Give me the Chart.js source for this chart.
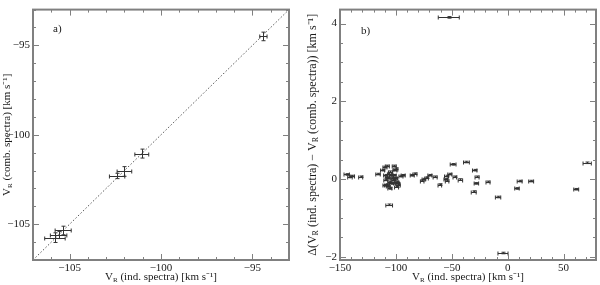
<!DOCTYPE html>
<html>
<head>
<meta charset="utf-8">
<script src="https://cdn.jsdelivr.net/npm/chart.js@4.4.1/dist/chart.umd.min.js"></script>
<style>
  html, body { margin: 0; padding: 0; background: #fff; }
  #wrap { position: relative; width: 600px; height: 285px; }
  canvas { position: absolute; top: 0; }
  #left-chart { left: 0; }
  #right-chart { left: 300px; }
</style>
</head>
<body>
<div id="wrap">
  <canvas id="left-chart" width="300" height="285"></canvas>
  <canvas id="right-chart" width="300" height="285"></canvas>
</div>
<script>
// panel a) - combined vs individual spectra
const aInd = [-94.4, -101.05, -102.0, -102.4, -105.35, -105.6, -105.8];
const aComb = [-94.5, -101.05, -102.05, -102.3, -105.35, -105.6, -105.75];
const aIndErr = [0.2, 0.38, 0.4, 0.42, 0.44, 0.45, 0.56];
const aCombErr = [0.24, 0.25, 0.27, 0.15, 0.24, 0.2, 0.27];
const aLine = [-107, -93];

// panel b) - difference vs individual spectra
const bInd = [
    -52.7, -4.2, 71.1, 61.3, 21.0, 10.7, 8.3, -8.6, -17.6, -27.4,
    -28.0, -29.5, -30.4, -36.9, -42.3, -48.8, -47.3, -51.8, -54.7, -55.4,
    -54.2, -60.7, -64.9, -69.6, -72.6, -75.0, -76.5, -83.0, -85.4, -93.5,
    -95.5, -97.9, -116.0, -106.0, -131.5, -139.0, -141.1, -144.0,
    -111.9, -109.8, -107.7, -109.2, -106.8, -105.4, -103.9, -101.5, -100.9, -101.5,
    -100.3, -99.4, -102.4, -105.8, -109.8, -108.3, -106.8, -99.4, -98.5, -101.8,
    -100.0, -104.9, -107.7, -109.0, -105.4, -103.9
];
const bDiff = [
    4.16, -1.90, 0.42, -0.26, -0.05, -0.05, -0.24, -0.46, -0.07, 0.06,
    -0.11, 0.23, -0.32, 0.44, -0.01, 0.38, 0.06, 0.13, 0.08, 0.0,
    -0.04, -0.14, 0.06, 0.10, 0.04, 0.0, -0.04, 0.14, 0.10, 0.10,
    0.08, -0.14, 0.13, -0.66, 0.06, 0.08, 0.06, 0.12,
    0.23, 0.31, 0.34, 0.10, 0.03, -0.07, -0.11, 0.34, 0.23, 0.10,
    0.02, -0.07, 0.02, 0.14, -0.16, -0.14, -0.18, -0.19, -0.11, -0.02,
    0.27, 0.19, 0.06, -0.02, -0.24, 0.10
];
const bIndErr = [
    9.4, 4.5, 3.7, 2.2, 2.2, 2.2, 2.0, 2.4, 1.8, 1.8,
    2.0, 2.0, 2.2, 2.6, 2.0, 2.6, 1.6, 1.8, 1.8, 1.6,
    1.6, 1.6, 1.8, 1.8, 1.6, 1.6, 1.6, 1.8, 1.8, 1.8,
    1.8, 1.8, 2.0, 3.0, 1.8, 2.0, 2.0, 2.4,
    1.8, 1.8, 1.8, 1.8, 1.8, 1.8, 1.8, 1.8, 1.8, 1.8,
    1.8, 1.8, 1.8, 1.8, 1.8, 1.8, 1.8, 1.8, 1.8, 1.8,
    1.8, 1.8, 1.8, 1.8, 1.8, 1.8
];
const bDiffErr = bDiff.map(() => 0.02);

const font = "'Liberation Serif', 'Times New Roman', serif";
const ink = "#1a1a1a";
const frameGrey = "#808080";

const minus = v => String(v).replace("-", "\u2212");

// error bars drawn from the dataset arrays through the scales
const errorBars = {
    id: "errorBars",
    afterDatasetsDraw(chart) {
        const { ctx, scales: { x, y } } = chart;
        chart.data.datasets.forEach(ds => {
            if (!ds.errX) return;
            ctx.save();
            ctx.strokeStyle = ds.errColor;
            ctx.lineWidth = 1;
            ctx.beginPath();
            ds.data.forEach((p, i) => {
                const px = Math.round(x.getPixelForValue(p.x)) + 0.5;
                const py = Math.round(y.getPixelForValue(p.y)) + 0.5;
                const x0 = x.getPixelForValue(p.x - ds.errX[i]);
                const x1 = x.getPixelForValue(p.x + ds.errX[i]);
                const y0 = y.getPixelForValue(p.y - ds.errY[i]);
                const y1 = y.getPixelForValue(p.y + ds.errY[i]);
                const c = ds.cap;
                ctx.moveTo(x0, py); ctx.lineTo(x1, py);
                ctx.moveTo(x0, py - c); ctx.lineTo(x0, py + c);
                ctx.moveTo(x1, py - c); ctx.lineTo(x1, py + c);
                if (Math.abs(y1 - y0) > 1.5) {
                    ctx.moveTo(px, y0); ctx.lineTo(px, y1);
                    ctx.moveTo(px - c, y0); ctx.lineTo(px + c, y0);
                    ctx.moveTo(px - c, y1); ctx.lineTo(px + c, y1);
                }
            });
            ctx.stroke();
            ctx.restore();
        });
    }
};

// box frame with inward ticks on all four sides, titles with subscripts
const frame = {
    id: "frame",
    afterDraw(chart, args, opts) {
        const { ctx, chartArea: a, scales: { x, y } } = chart;
        ctx.save();
        ctx.strokeStyle = frameGrey;
        ctx.lineWidth = 1;
        ctx.beginPath();
        const steps = (scale, step) => {
            const out = [];
            for (let v = Math.ceil(scale.min / step - 1e-9) * step; v <= scale.max + 1e-9; v += step) out.push(v);
            return out;
        };
        steps(x, opts.xMinor).forEach(v => {
            const px = Math.round(x.getPixelForValue(v)) + 0.5;
            const major = Math.abs(v / opts.xMajor - Math.round(v / opts.xMajor)) < 1e-6;
            const len = major ? 6 : 3;
            ctx.moveTo(px, a.bottom); ctx.lineTo(px, a.bottom - len);
            ctx.moveTo(px, a.top); ctx.lineTo(px, a.top + len);
        });
        steps(y, opts.yMinor).forEach(v => {
            const py = Math.round(y.getPixelForValue(v)) + 0.5;
            const major = Math.abs(v / opts.yMajor - Math.round(v / opts.yMajor)) < 1e-6;
            const len = major ? 6 : 3;
            ctx.moveTo(a.left, py); ctx.lineTo(a.left + len, py);
            ctx.moveTo(a.right, py); ctx.lineTo(a.right - len, py);
        });
        ctx.stroke();
        ctx.lineWidth = 2;
        ctx.strokeRect(a.left, a.top, a.right - a.left, a.bottom - a.top);

        // titles
        ctx.fillStyle = ink;
        const drawParts = (parts, cx, cy, rot, size) => {
            ctx.save();
            ctx.translate(cx, cy);
            ctx.rotate(rot);
            const sub = Math.round(size * 0.64);
            let w = 0;
            parts.forEach(p => {
                ctx.font = (p.sub ? sub : size) + "px " + font;
                w += ctx.measureText(p.t).width;
            });
            let cur = -w / 2;
            ctx.textBaseline = "middle";
            ctx.textAlign = "left";
            parts.forEach(p => {
                ctx.font = (p.sub ? sub : size) + "px " + font;
                ctx.fillText(p.t, cur, p.sub ? 3 : 0);
                cur += ctx.measureText(p.t).width;
            });
            ctx.restore();
        };
        drawParts(opts.xTitle, (a.left + a.right) / 2, 277, 0, 11);
        drawParts(opts.yTitle, opts.yTitleX, (a.top + a.bottom) / 2, -Math.PI / 2, opts.yTitleSize);
        ctx.font = "11px " + font;
        ctx.textAlign = "left";
        ctx.textBaseline = "middle";
        ctx.fillText(opts.tag, a.left + opts.tagDx, a.top + opts.tagDy);
        ctx.restore();
    }
};

const xTitleParts = [{ t: "V" }, { t: "R", sub: true }, { t: " (ind. spectra) [km s\u207B\u00B9]" }];

function axis(min, max, step, pos, fit) {
    return {
        type: "linear",
        position: pos,
        min: min,
        max: max,
        grid: { display: false, drawTicks: false },
        border: { display: false },
        ticks: {
            stepSize: step,
            includeBounds: false,
            padding: pos === "bottom" ? 2 : 3,
            color: ink,
            font: { family: font, size: 11 },
            callback: v => minus(v)
        },
        afterFit: fit
    };
}

new Chart(document.getElementById("left-chart"), {
    type: "scatter",
    data: {
        datasets: [{
            type: "line",
            data: aLine.map(v => ({ x: v, y: v })),
            borderColor: "#555",
            borderWidth: 1,
            borderDash: [1.5, 2],
            pointRadius: 0,
            fill: false
        }, {
            data: aInd.map((v, i) => ({ x: v, y: aComb[i] })),
            errX: aIndErr,
            errY: aCombErr,
            errColor: "#333",
            cap: 2,
            pointRadius: 0
        }]
    },
    options: {
        responsive: false,
        animation: false,
        layout: { padding: { top: 4, right: 11, left: 0, bottom: 0 } },
        scales: {
            x: axis(-107, -93, 5, "bottom", s => { s.height = 25; }),
            y: axis(-107, -93, 5, "left", s => { s.width = 33; })
        },
        plugins: {
            legend: { display: false },
            tooltip: { enabled: false },
            frame: {
                xMajor: 5, xMinor: 1, yMajor: 5, yMinor: 1,
                xTitle: xTitleParts,
                yTitle: [{ t: "V" }, { t: "R", sub: true }, { t: " (comb. spectra) [km s\u207B\u00B9]" }],
                yTitleX: 7, yTitleSize: 11,
                tag: "a)", tagDx: 20, tagDy: 20
            }
        }
    },
    plugins: [errorBars, frame]
});

new Chart(document.getElementById("right-chart"), {
    type: "scatter",
    data: {
        datasets: [{
            data: bInd.map((v, i) => ({ x: v, y: bDiff[i] })),
            errX: bIndErr,
            errY: bDiffErr,
            errColor: "#333",
            cap: 2,
            pointRadius: 0.6,
            backgroundColor: "#333",
            borderWidth: 0
        }]
    },
    options: {
        responsive: false,
        animation: false,
        layout: { padding: { top: 4, right: 4, left: 0, bottom: 0 } },
        scales: {
            x: axis(-150, 79, 50, "bottom", s => { s.height = 25; }),
            y: axis(-2.08, 4.36, 2, "left", s => { s.width = 40; })
        },
        plugins: {
            legend: { display: false },
            tooltip: { enabled: false },
            frame: {
                xMajor: 50, xMinor: 10, yMajor: 2, yMinor: 0.5,
                xTitle: xTitleParts,
                yTitle: [{ t: "\u0394(V" }, { t: "R", sub: true }, { t: " (ind. spectra) \u2212 V" }, { t: "R", sub: true }, { t: " (comb. spectra)) [km s\u207B\u00B9]" }],
                yTitleX: 13, yTitleSize: 12,
                tag: "b)", tagDx: 21, tagDy: 22
            }
        }
    },
    plugins: [errorBars, frame]
});
</script>
</body>
</html>
